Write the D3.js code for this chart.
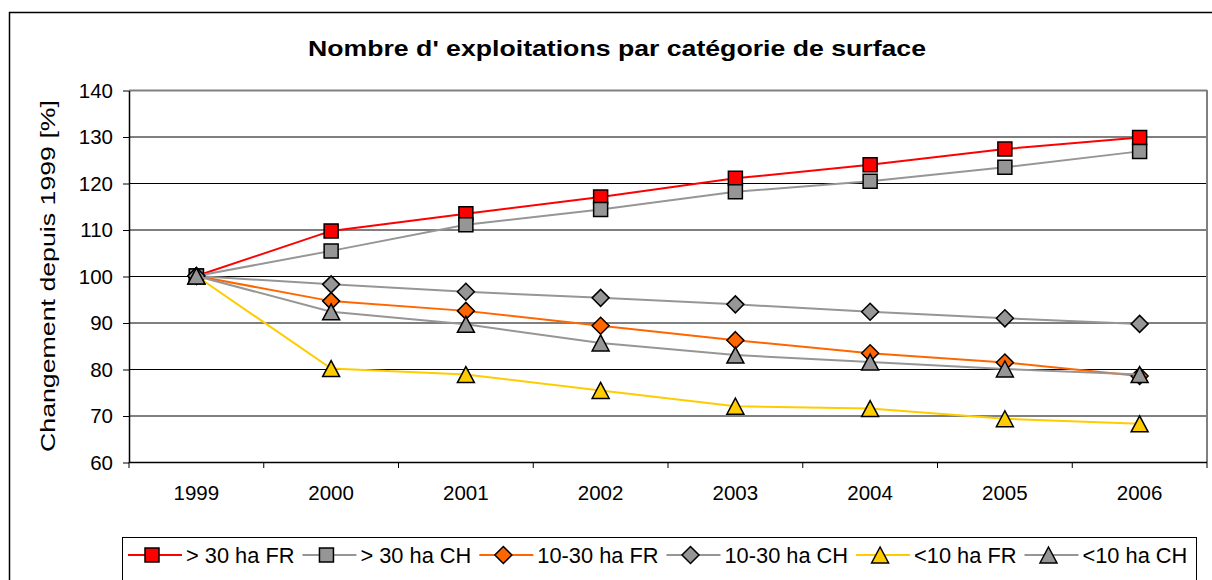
<!DOCTYPE html>
<html><head><meta charset="utf-8">
<script src="https://cdn.jsdelivr.net/npm/d3@7"></script>
<style>
body{margin:0;background:#fff;}
svg text{font-family:"Liberation Sans",Arial,sans-serif;fill:#000;}
</style>
</head><body>
<svg id="chart" width="1212" height="580"></svg>
<script>
// ---- data ----
const years = ["1999","2000","2001","2002","2003","2004","2005","2006"];
const yTicks = [60,70,80,90,100,110,120,130,140];
const seriesNames = ["> 30 ha FR","> 30 ha CH","10-30 ha FR","10-30 ha CH","<10 ha FR","<10 ha CH"];
const gt30FR   = [100,109.7,113.4,117.0,121.0,123.9,127.3,129.8];
const gt30CH   = [100,105.4,111.0,114.3,118.1,120.4,123.4,126.8];
const mid30FR  = [100,94.6,92.5,89.3,86.2,83.4,81.4,78.5];
const mid30CH  = [100,98.2,96.6,95.3,93.9,92.3,90.9,89.7];
const lt10FR   = [100,80.1,78.8,75.4,72.0,71.5,69.3,68.2];
const lt10CH   = [100,92.3,89.6,85.6,83.0,81.5,80.0,78.8];
const seriesValues = [gt30FR, gt30CH, mid30FR, mid30CH, lt10FR, lt10CH];
const seriesColors = ["#FF0000","#969696","#FF6600","#969696","#FFCC00","#969696"];
const markerFills  = ["#FF0000","#969696","#FF6600","#969696","#FFCC00","#969696"];
const markerTypes  = ["square","square","diamond","diamond","triangle","triangle"];
const titleText = "Nombre d' exploitations par catégorie de surface";
const yTitleText = "Changement depuis 1999 [%]";

// ---- layout ----
const svg = d3.select("#chart");
const L = 129, R = 1207, T = 90, B = 462;
const x = d3.scaleBand().domain(years).range([L, R]);
const y = d3.scaleLinear().domain([60, 140]).range([B, T]);

// outer frame
svg.append("rect").attr("x",9.5).attr("y",12.5).attr("width",1215).attr("height",600)
  .attr("fill","#fff").attr("stroke","#000").attr("stroke-width",1.5);

// title
svg.append("text").attr("x",617).attr("y",56).attr("text-anchor","middle")
  .style("font-size","22px").style("font-weight","bold")
  .attr("textLength",618).attr("lengthAdjust","spacingAndGlyphs")
  .text(titleText);

// gridlines
svg.append("g").selectAll("line").data(yTicks.filter(d=>d>60)).join("line")
  .attr("x1",L).attr("x2",R).attr("y1",d=>y(d)+0.5).attr("y2",d=>y(d)+0.5)
  .attr("stroke",d=>d===140?"#808080":"#000").attr("stroke-width",d=>d===140?2:1);
// plot area right border
svg.append("line").attr("x1",R).attr("x2",R).attr("y1",T).attr("y2",B)
  .attr("stroke","#808080").attr("stroke-width",2);

// y axis
const yAxis = svg.append("g").attr("transform",`translate(${L},0.5)`)
  .call(d3.axisLeft(y).tickValues(yTicks).tickSize(6).tickPadding(10).tickSizeOuter(0));
yAxis.select(".domain").attr("stroke","#000").attr("stroke-width",1.5);
yAxis.selectAll(".tick line").attr("stroke","#000");
yAxis.selectAll("text").style("font-size","20.5px").attr("fill","#000")
  .style("font-family","'Liberation Sans',Arial,sans-serif");

// x axis
const xAxis = svg.append("g").attr("transform",`translate(0,${B})`);
xAxis.append("line").attr("x1",L).attr("x2",R).attr("y1",0.5).attr("y2",0.5)
  .attr("stroke","#000").attr("stroke-width",1.5);
const boundaries = years.map(d=>x(d)).concat([x.range()[1]]);
xAxis.selectAll("line.tk").data(boundaries).join("line").attr("class","tk")
  .attr("x1",d=>d).attr("x2",d=>d).attr("y1",0).attr("y2",6).attr("stroke","#000");
xAxis.selectAll("text").data(years).join("text")
  .attr("x",d=>x(d)+x.bandwidth()/2).attr("y",38).attr("text-anchor","middle")
  .style("font-size","20.5px").text(d=>d);

// y title
svg.append("text").attr("transform",`translate(55,${(T+B)/2}) rotate(-90)`)
  .attr("text-anchor","middle").style("font-size","20px")
  .attr("textLength",352).attr("lengthAdjust","spacingAndGlyphs")
  .text(yTitleText);

// markers
function markerPath(type){
  if(type==="square") return "M-7,-7h14v14h-14z";
  if(type==="diamond") return "M0,-8.5L8.5,0L0,8.5L-8.5,0Z";
  return "M0,-8L8.5,8L-8.5,8Z";
}
const cx = d => x(d)+x.bandwidth()/2;
const line = d3.line().x((v,i)=>cx(years[i])).y(v=>y(v));

seriesValues.forEach((vals,si)=>{
  const g = svg.append("g");
  g.append("path").attr("d",line(vals)).attr("fill","none")
    .attr("stroke",seriesColors[si]).attr("stroke-width",2);
  g.selectAll("path.m").data(vals).join("path").attr("class","m")
    .attr("transform",(v,i)=>`translate(${cx(years[i])},${y(v)})`)
    .attr("d",markerPath(markerTypes[si]))
    .attr("fill",markerFills[si]).attr("stroke","#000").attr("stroke-width",1.5);
});

// legend
svg.append("rect").attr("x",122.5).attr("y",537.5).attr("width",1074).attr("height",60)
  .attr("fill","#fff").attr("stroke","#000").attr("stroke-width",1);
let lx = 128;
const ly = 555;
seriesNames.forEach((name,si)=>{
  const g = svg.append("g");
  g.append("line").attr("x1",lx).attr("x2",lx+54).attr("y1",ly).attr("y2",ly)
    .attr("stroke",seriesColors[si]).attr("stroke-width",2);
  g.append("path").attr("transform",`translate(${lx+24},${ly})`)
    .attr("d",markerPath(markerTypes[si])).attr("fill",markerFills[si])
    .attr("stroke","#000").attr("stroke-width",1.5);
  const t = g.append("text").attr("x",lx+58).attr("y",ly+7.5)
    .style("font-size","21.8px").text(name);
  lx += 58 + t.node().getComputedTextLength() + 8;
});
</script>
</body></html>
